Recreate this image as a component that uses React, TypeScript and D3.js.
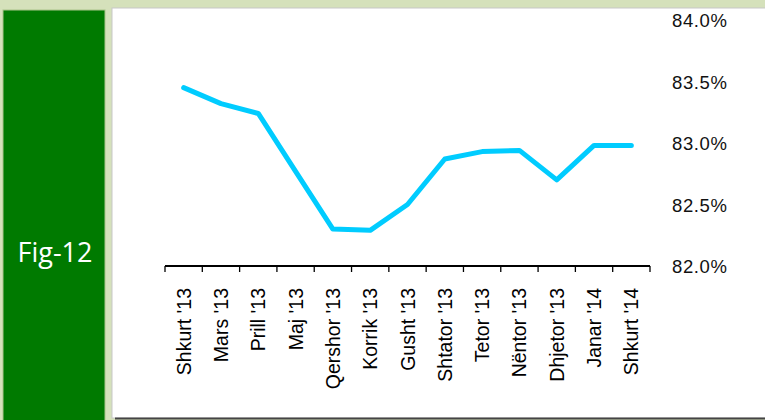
import { useEffect, useRef } from "react";
import * as d3 from "d3";

const months = [
  "Shkurt '13", "Mars '13", "Prill '13", "Maj '13", "Qershor '13", "Korrik '13",
  "Gusht '13", "Shtator '13", "Tetor '13", "Nëntor '13", "Dhjetor '13", "Janar '14", "Shkurt '14",
];
const values = [83.45, 83.32, 83.24, 82.77, 82.3, 82.29, 82.5, 82.87, 82.93, 82.94, 82.7, 82.98, 82.98];
const yTicks = [82.0, 82.5, 83.0, 83.5, 84.0];

export default function App() {
  const ref = useRef<SVGSVGElement>(null);

  useEffect(() => {
    const svg = d3.select(ref.current);
    svg.selectAll("*").remove();

    // backdrop
    svg.append("rect").attr("width", 765).attr("height", 420).attr("fill", "#d5e1bb");
    svg.append("rect").attr("x", 3).attr("y", 10).attr("width", 102).attr("height", 412)
      .attr("fill", "#007a00").attr("stroke", "#a9c48a").attr("stroke-width", 1);
    svg.append("text").attr("x", 55).attr("y", 262).attr("text-anchor", "middle")
      .attr("fill", "#fff").attr("font-family", "'Open Sans', sans-serif").attr("font-size", 27)
      .text("Fig-12");
    svg.append("rect").attr("x", 112).attr("y", 8).attr("width", 660).attr("height", 410)
      .attr("fill", "#fff").attr("stroke", "#c8c8c8");
    svg.append("line").attr("x1", 115).attr("x2", 765).attr("y1", 418.5).attr("y2", 418.5)
      .attr("stroke", "#444").attr("stroke-width", 2);

    const x = d3.scaleBand().domain(months).range([165, 650]);
    const y = d3.scaleLinear().domain([82, 84]).range([266, 20]);

    const g = svg.append("g").attr("font-family", "'Liberation Sans', Arial, sans-serif");

    // x axis
    const xa = g.append("g").attr("transform", "translate(0,266)");
    xa.append("line").attr("x1", 165).attr("x2", 650).attr("stroke", "#000").attr("stroke-width", 2);
    const edges = months.map((m) => x(m)!).concat([650]);
    xa.selectAll("line.tick").data(edges).enter().append("line")
      .attr("class", "tick").attr("x1", (d) => d).attr("x2", (d) => d)
      .attr("y1", 0).attr("y2", 6).attr("stroke", "#000").attr("stroke-width", 1.3);
    xa.selectAll("text").data(months).enter().append("text")
      .attr("transform", (d) => `translate(${x(d)! + x.bandwidth() / 2 + 7},22) rotate(-90)`)
      .attr("text-anchor", "end").attr("font-size", 19.5).attr("fill", "#000")
      .text((d) => d);

    // y labels on the right
    g.selectAll("text.yl").data(yTicks).enter().append("text")
      .attr("class", "yl").attr("x", 672).attr("y", (d) => y(d) + 7)
      .attr("font-size", 18.5).attr("letter-spacing", 0.6).attr("fill", "#111")
      .text((d) => d.toFixed(1) + "%");

    const line = d3.line<number>()
      .x((_, i) => x(months[i])! + x.bandwidth() / 2)
      .y((d) => y(d));
    g.append("path").datum(values).attr("d", line)
      .attr("fill", "none").attr("stroke", "#00ccff").attr("stroke-width", 5)
      .attr("stroke-linejoin", "round").attr("stroke-linecap", "round");
  }, []);

  return (
    <svg ref={ref} width={765} height={420}
      style={{ position: "absolute", left: 0, top: 0 }} />
  );
}
